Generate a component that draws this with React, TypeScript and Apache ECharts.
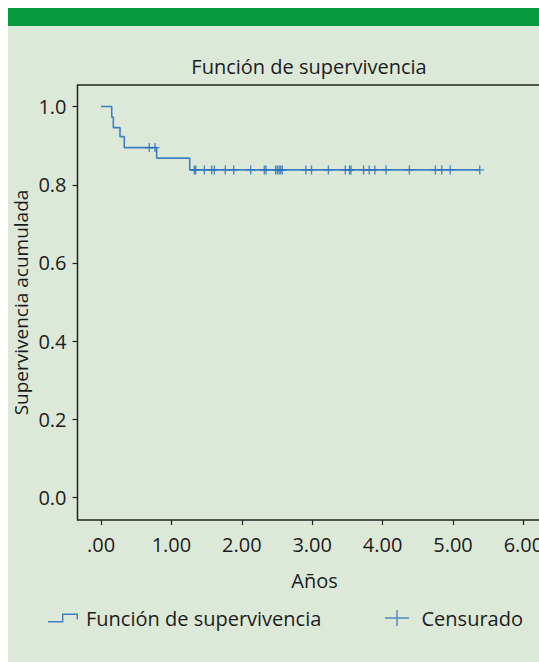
import React, { useEffect, useRef } from "react";
import * as echarts from "echarts";

// Kaplan-Meier step curve (time in years, cumulative survival)
const stepTimes = [0, 0.152, 0.175, 0.27, 0.33, 0.79, 1.26, 5.38];
const stepSurvival = [1.0, 0.973, 0.946, 0.923, 0.895, 0.868, 0.838, 0.838];

// Censored observations
const censorTimes = [
  0.686, 0.767, 1.325, 1.345, 1.468, 1.572, 1.61, 1.766, 1.885, 2.126, 2.32,
  2.344, 2.48, 2.505, 2.53, 2.55, 2.575, 2.91, 2.99, 3.23, 3.47, 3.53, 3.55,
  3.73, 3.81, 3.89, 4.05, 4.38, 4.75, 4.84, 4.96, 5.38,
];
const censorSurvival = [
  0.895, 0.895, 0.838, 0.838, 0.838, 0.838, 0.838, 0.838, 0.838, 0.838, 0.838,
  0.838, 0.838, 0.838, 0.838, 0.838, 0.838, 0.838, 0.838, 0.838, 0.838, 0.838,
  0.838, 0.838, 0.838, 0.838, 0.838, 0.838, 0.838, 0.838, 0.838, 0.838,
];

const xTickValues = [0, 1, 2, 3, 4, 5, 6];
const xTickLabels = [".00", "1.00", "2.00", "3.00", "4.00", "5.00", "6.00"];
const yTickValues = [0, 0.2, 0.4, 0.6, 0.8, 1.0];
const yTickLabels = ["0.0", "0.2", "0.4", "0.6", "0.8", "1.0"];

const titleText = "Función de supervivencia";
const seriesNames = ["Función de supervivencia", "Censurado"];
const xName = "Años";
const yName = "Supervivencia acumulada";

const FONT = "'Open Sans', 'Noto Sans', sans-serif";
const FS = 20;
const TEXT = "#1c1c1c";
const LINE = "#3c80c3";
const MARK = "#2a70b8";

export default function App() {
  const ref = useRef<HTMLDivElement>(null);
  useEffect(() => {
    if (!ref.current) return;
    const chart = echarts.init(ref.current, null, { renderer: "svg" });
    const curve = stepTimes.map((t, i) => [t, stepSurvival[i]]);
    const censored = censorTimes.map((t, i) => [t, censorSurvival[i]]);
    const plus =
      "path://M3.8,0 H5.2 V3.8 H9 V5.2 H5.2 V9 H3.8 V5.2 H0 V3.8 H3.8 Z";
    chart.setOption({
      animation: false,
      backgroundColor: "#dde9d8",
      textStyle: { fontFamily: FONT },
      graphic: [
        {
          type: "rect",
          left: 0,
          top: 0,
          shape: { width: 531, height: 18 },
          style: { fill: "#079a3e" },
        },
      ],
      title: {
        text: titleText,
        left: 296,
        top: 43,
        textAlign: "center",
        textStyle: {
          fontFamily: FONT,
          fontSize: FS,
          fontWeight: "normal",
          color: TEXT,
        },
      },
      legend: [
        {
          data: [seriesNames[0]],
          left: 35,
          top: 595,
          itemWidth: 30,
          itemHeight: 9,
          icon: "path://M0,7.6 H14 V0 H30 V6 H28.6 V1.4 H15.4 V9 H0 Z",
          textStyle: {
            fontFamily: FONT,
            fontSize: FS,
            color: TEXT,
            padding: [0, 0, 0, 3],
          },
        },
        {
          data: [seriesNames[1]],
          left: 372,
          top: 595,
          itemWidth: 25,
          itemHeight: 16,
          icon: "path://M11.3,0 H12.7 V7.3 H24 V8.7 H12.7 V16 H11.3 V8.7 H0 V7.3 H11.3 Z",
          textStyle: {
            fontFamily: FONT,
            fontSize: FS,
            color: TEXT,
            padding: [0, 0, 0, 7],
          },
        },
      ],
      grid: {
        left: 69.5,
        top: 77,
        width: 474,
        height: 435,
        outerBoundsMode: "none",
        containLabel: false,
        show: true,
        borderColor: "#222",
        borderWidth: 1.5,
        backgroundColor: "transparent",
      },
      xAxis: {
        type: "value",
        min: -0.334,
        max: 6.399,
        name: xName,
        nameLocation: "middle",
        nameGap: 50,
        nameMoveOverlap: false,
        nameTextStyle: { fontFamily: FONT, fontSize: FS, color: TEXT },
        axisLine: { show: false, onZero: false },
        splitLine: { show: false },
        axisTick: {
          show: true,
          length: 5,
          customValues: xTickValues,
          lineStyle: { color: "#222", width: 1.2 },
        },
        axisLabel: {
          customValues: xTickValues,
          margin: 14,
          fontFamily: FONT,
          fontSize: FS,
          color: TEXT,
          formatter: (v: number) => {
            const i = xTickValues.indexOf(Math.round(v * 1000) / 1000);
            return i >= 0 ? xTickLabels[i] : "";
          },
        },
      },
      yAxis: {
        type: "value",
        min: -0.057,
        max: 1.055,
        name: yName,
        nameLocation: "middle",
        nameGap: 47,
        nameMoveOverlap: false,
        nameTextStyle: {
          fontFamily: FONT,
          fontSize: 19,
          color: TEXT,
          lineHeight: 19,
        },
        axisLine: { show: false, onZero: false },
        splitLine: { show: false },
        axisTick: {
          show: true,
          length: 5,
          customValues: yTickValues,
          lineStyle: { color: "#222", width: 1.2 },
        },
        axisLabel: {
          customValues: yTickValues,
          margin: 11,
          fontFamily: FONT,
          fontSize: FS,
          color: TEXT,
          formatter: (v: number) => {
            const i = yTickValues.findIndex((t) => Math.abs(t - v) < 1e-6);
            return i >= 0 ? yTickLabels[i] : "";
          },
        },
      },
      series: [
        {
          name: seriesNames[0],
          type: "line",
          step: "end",
          data: curve,
          showSymbol: false,
          symbol: "none",
          color: LINE,
          lineStyle: { color: LINE, width: 1.6 },
          z: 2,
        },
        {
          name: seriesNames[1],
          type: "scatter",
          data: censored,
          symbol: plus,
          symbolSize: [9, 9],
          color: MARK,
          itemStyle: { color: MARK },
          z: 3,
        },
      ],
    });
    return () => chart.dispose();
  }, []);
  return (
    <div
      ref={ref}
      style={{
        position: "absolute",
        left: 8,
        top: 8,
        width: 531,
        height: 654,
      }}
    />
  );
}
